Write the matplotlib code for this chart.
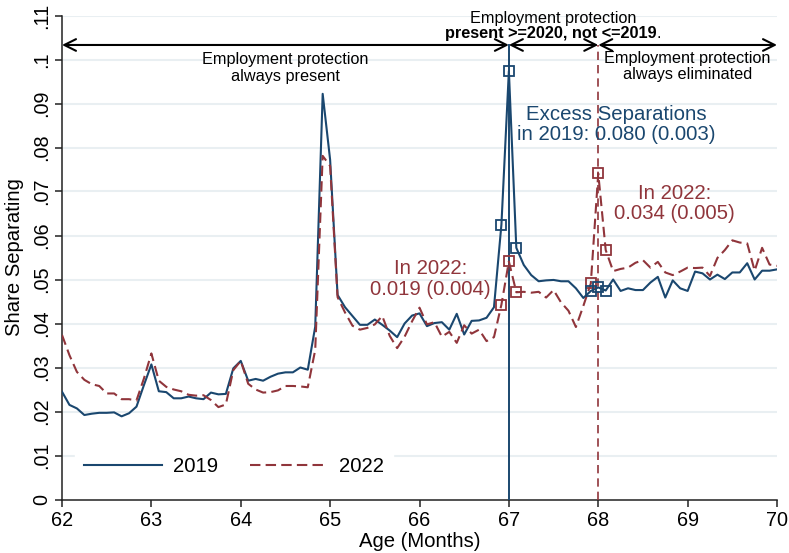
import numpy as np
import matplotlib
matplotlib.use("Agg")
import matplotlib.pyplot as plt

plt.rcParams['font.family'] = ['Liberation Sans', 'DejaVu Sans']

# Monthly separation shares, ages 62y0m .. 70y0m
months = np.arange(0, 97)
age = 62 + months / 12

share_2019 = [
    .0245, .0215, .0207, .0192, .0195, .0197, .0197, .0198, .0189, .0196, .0211, .0260,
    .0307, .0246, .0244, .0230, .0230, .0234, .0230, .0228, .0243, .0239, .0240, .0298,
    .0315, .0270, .0274, .0270, .0279, .0286, .0289, .0289, .0300, .0295, .0393, .0922,
    .0772, .0465, .0437, .0417, .0397, .0397, .0409, .0397, .0384, .0369, .0400, .0418,
    .0423, .0394, .0401, .0403, .0386, .0422, .0375, .0406, .0407, .0413, .0437, .0625,
    .0974, .0572, .0533, .0510, .0496, .0498, .0499, .0496, .0496, .0480, .0458, .0474,
    .0482, .0475, .0500, .0474, .0480, .0476, .0476, .0493, .0506, .0459, .0498, .0480,
    .0474, .0518, .0514, .0500, .0511, .0501, .0516, .0516, .0537, .0500, .0520, .0520,
    .0523,
]

share_2022 = [
    .0374, .0328, .0290, .0272, .0262, .0258, .0241, .0241, .0228, .0228, .0225, .0275,
    .0332, .0270, .0256, .0250, .0246, .0238, .0236, .0237, .0226, .0210, .0216, .0294,
    .0315, .0263, .0250, .0243, .0244, .0248, .0258, .0258, .0257, .0255, .0340, .0781,
    .0758, .0460, .0425, .0395, .0386, .0390, .0398, .0417, .0372, .0344, .0370, .0405,
    .0436, .0398, .0403, .0370, .0381, .0356, .0396, .0377, .0386, .0360, .0369, .0443,
    .0541, .0471, .0472, .0470, .0472, .0459, .0476, .0448, .0429, .0392, .0440, .0491,
    .0741, .0567, .0519, .0524, .0527, .0538, .0544, .0527, .0540, .0516, .0510, .0518,
    .0527, .0526, .0527, .0508, .0549, .0567, .0589, .0584, .0582, .0520, .0572, .0534,
    .0531,
]

# Months around the two thresholds that carry square markers
marked_months = [59, 60, 61, 71, 72, 73]

cutoff_2019 = 67
cutoff_2022 = 68

x_ticks = [62, 63, 64, 65, 66, 67, 68, 69, 70]
y_ticks = [0, .01, .02, .03, .04, .05, .06, .07, .08, .09, .10, .11]
y_tick_labels = ["0", ".01", ".02", ".03", ".04", ".05", ".06", ".07", ".08", ".09", ".1", ".11"]

navy = "#1a476f"
maroon = "#90353b"
grid_col = "#e9eff2"

fig = plt.figure(figsize=(7.89, 5.53), dpi=100)
ax = fig.add_axes([62 / 789, 1 - 499.5 / 553, 715 / 789, 484 / 553])

ax.set_xlim(62, 70)
ax.set_ylim(0, .11)

for yv in y_ticks[1:]:
    ax.axhline(yv, color=grid_col, lw=1.5, zorder=0)

arrow_y = .1033

# threshold lines
ax.plot([cutoff_2019, cutoff_2019], [0, arrow_y], color=navy, lw=1.4, zorder=3)
ax.plot([cutoff_2022, cutoff_2022], [0, arrow_y], color=maroon, lw=1.2,
        linestyle=(0, (5, 3)), zorder=3)

ax.plot(age, share_2019, color=navy, lw=1.5, label="2019", zorder=4)
ax.plot(age, share_2022, color=maroon, lw=1.5, linestyle=(0, (5, 2.5)), label="2022", zorder=4)

mk_age = age[marked_months]
ax.plot(mk_age, np.array(share_2022)[marked_months], linestyle="none", marker="s",
        markersize=7, markerfacecolor="none", markeredgecolor=maroon, markeredgewidth=1.3, zorder=5)
ax.plot(mk_age, np.array(share_2019)[marked_months], linestyle="none", marker="s",
        markersize=7, markerfacecolor="none", markeredgecolor=navy, markeredgewidth=1.3, zorder=5)

# regime arrows
def span_arrow(x0, x1):
    ax.annotate("", xy=(x1, arrow_y), xytext=(x0, arrow_y),
                arrowprops=dict(arrowstyle="<->,head_length=0.6,head_width=0.3",
                                color="black", lw=1.5, mutation_scale=14,
                                shrinkA=0, shrinkB=0),
                annotation_clip=False, zorder=6)

span_arrow(62, 67)
span_arrow(67, 68)
span_arrow(68, 70)

small = 11.7
ax.text(64.5, .1000, "Employment protection", ha="center", va="center", fontsize=small)
ax.text(64.5, .0962, "always present", ha="center", va="center", fontsize=small)

ax.text(67.5, .1094, "Employment protection", ha="center", va="center", fontsize=small)
bold_line = ax.text(67.47, .1060, "present >=2020, not <=2019", ha="center", va="center",
                    fontsize=small, fontweight="bold")
ax.annotate(".", xy=(1, 0), xycoords=bold_line, ha="left", va="bottom", fontsize=small)

ax.text(69.0, .1003, "Employment protection", ha="center", va="center", fontsize=small)
ax.text(69.0, .0965, "always eliminated", ha="center", va="center", fontsize=small)

big = 14.7
ax.text(68.2, .0874, "Excess Separations", ha="center", va="center", fontsize=big, color=navy)
ax.text(68.2, .0829, "in 2019: 0.080 (0.003)", ha="center", va="center", fontsize=big, color=navy)

ax.text(68.85, .0696, "In 2022:", ha="center", va="center", fontsize=big, color=maroon)
ax.text(68.85, .0650, "0.034 (0.005)", ha="center", va="center", fontsize=big, color=maroon)

ax.text(66.12, .0525, "In 2022:", ha="center", va="center", fontsize=big, color=maroon)
ax.text(66.12, .0478, "0.019 (0.004)", ha="center", va="center", fontsize=big, color=maroon)

ax.set_xticks(x_ticks)
ax.set_xticklabels([str(v) for v in x_ticks], fontsize=14.3)
ax.set_yticks(y_ticks)
ax.set_yticklabels(y_tick_labels, fontsize=14.3, rotation=90, va="center")
ax.tick_params(axis="both", direction="out", length=5, width=1.1, color="#222222")
ax.tick_params(axis="x", pad=3)
ax.tick_params(axis="y", pad=3)

for side in ("top", "right"):
    ax.spines[side].set_visible(False)
for side in ("left", "bottom"):
    ax.spines[side].set_color("#222222")
    ax.spines[side].set_linewidth(1.1)

ax.set_xlabel("Age (Months)", fontsize=14.6, labelpad=2)
ax.set_ylabel("Share Separating", fontsize=14.6, labelpad=6)

leg = ax.legend(loc="center left", bbox_to_anchor=(0.018, 0.069), ncol=2, frameon=True,
                fontsize=14.6, handlelength=3.85, handletextpad=0.55, columnspacing=1.55,
                borderpad=0.45, borderaxespad=0, fancybox=False)
leg.get_frame().set_facecolor("white")
leg.get_frame().set_edgecolor("white")
leg.get_frame().set_alpha(1)
leg.set_zorder(7)

fig.savefig("out.png", dpi=100)
